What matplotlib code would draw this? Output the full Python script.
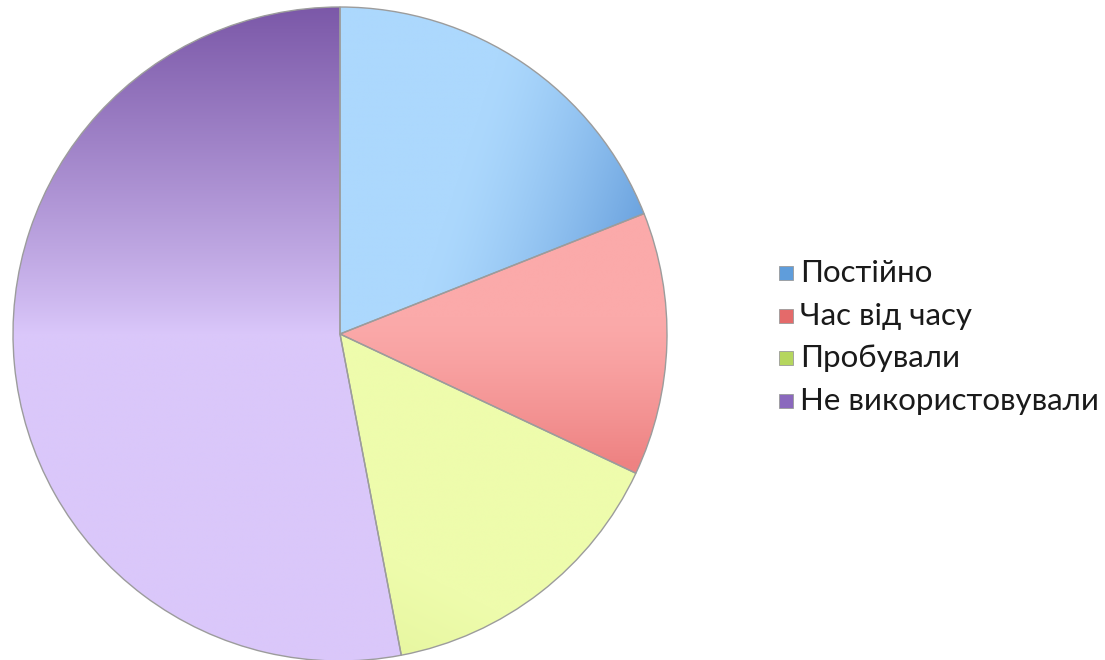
import numpy as np
import matplotlib
matplotlib.use("Agg")
import matplotlib.pyplot as plt
from matplotlib.patches import Rectangle
from matplotlib.colors import to_rgb

labels = ["Постійно", "Час від часу", "Пробували", "Не використовували"]
values = [19, 13, 15, 53]

# gradient colour pairs (light, dark) per slice
light_cols = ["#acd8fd", "#fbaaaa", "#eefcac", "#dac7fa"]
dark_cols = ["#68a0dd", "#ee8282", "#d8ec88", "#7b58a8"]
legend_cols = ["#5f9ddb", "#e46a6a", "#b5d65e", "#8a68bd"]
edge_col = "#9c9c9c"

W, H = 1105, 660
fig = plt.figure(figsize=(W / 100, H / 100), dpi=100)
cx, cy, r = 340, 334, 327
ax = fig.add_axes([(cx - r) / W, (H - cy - r) / H, 2 * r / W, 2 * r / H])

wedges, _ = ax.pie(values, startangle=90, counterclock=False, radius=1,
                   colors=light_cols,
                   wedgeprops=dict(edgecolor=edge_col, linewidth=1.0))

n = 700
xs = np.linspace(-1, 1, n)
X, Y = np.meshgrid(xs, xs[::-1])


def t_blue(X, Y):
    a = np.deg2rad(-18)
    p = X * np.cos(a) + Y * np.sin(a)
    return np.clip((p - 0.2) / 0.6, 0, 1) ** 1.4


def t_red(X, Y):
    return np.clip((0.05 - Y) / 0.45, 0, 1) ** 1.3


def t_green(X, Y):
    p = -(X * 0.45 + Y * 0.9)
    return np.clip((p - 0.55) / 0.5, 0, 1) * 0.6


def t_purple(X, Y):
    return np.clip(Y / 1.0, 0, 1) ** 0.9


tfuncs = [t_blue, t_red, t_green, t_purple]

for w, lc, dc, tf in zip(wedges, light_cols, dark_cols, tfuncs):
    t = tf(X, Y)[..., None]
    img = (1 - t) * np.array(to_rgb(lc)) + t * np.array(to_rgb(dc))
    im = ax.imshow(img, extent=(-1, 1, -1, 1), origin="upper",
                   interpolation="bilinear", zorder=1)
    im.set_clip_path(w)
    w.set_facecolor("none")
    w.set_zorder(2)

ax.set_xlim(-1, 1)
ax.set_ylim(-1, 1)
ax.set_aspect("equal")
ax.axis("off")

# legend
rows_y = [273, 316, 358, 401]
sq = 14
for lab, col, yy in zip(labels, legend_cols, rows_y):
    fig.patches.append(Rectangle(((779) / W, (H - yy - sq / 2) / H), sq / W, sq / H,
                                 transform=fig.transFigure, facecolor=col,
                                 edgecolor="#9a9a9a", linewidth=0.6))
    fig.text(800 / W, (H - yy) / H, lab, fontsize=22.5, family=["Lato", "DejaVu Sans"],
             color="#1a1a1a", va="center", ha="left")

fig.savefig("out.png", dpi=100)
